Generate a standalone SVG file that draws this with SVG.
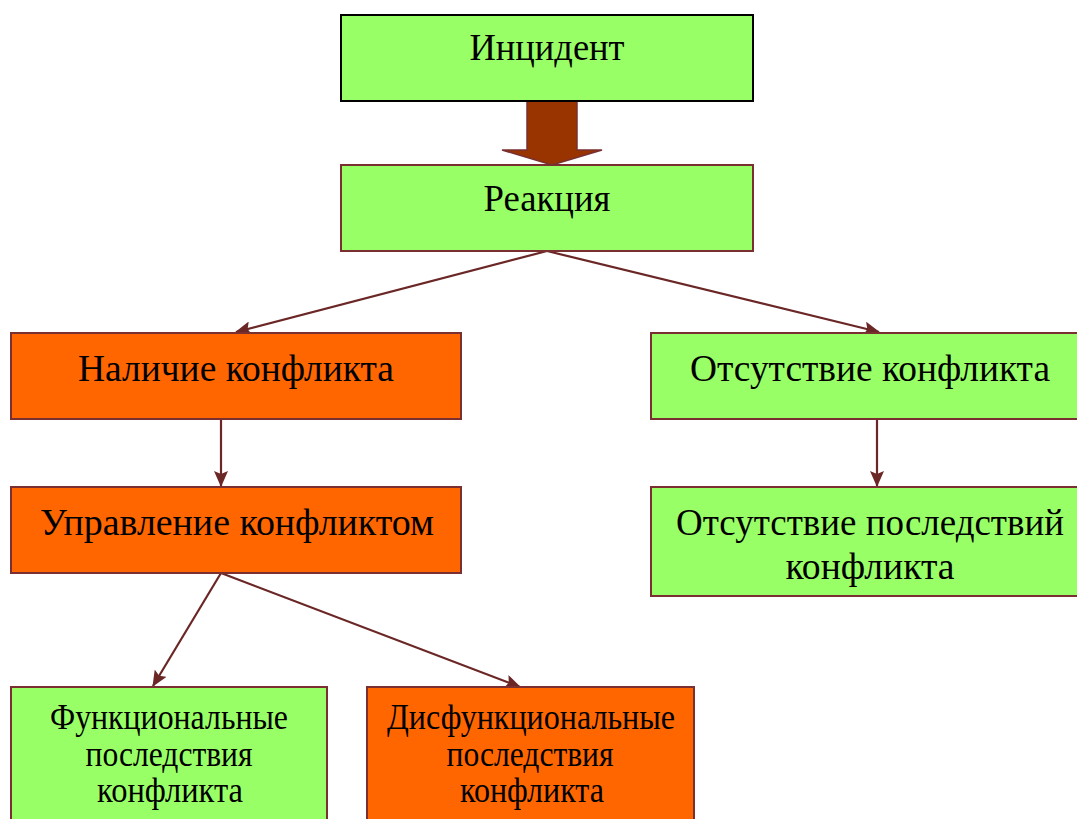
<svg xmlns="http://www.w3.org/2000/svg" width="1077" height="819" viewBox="0 0 1077 819">
<style>
.g{fill:#99ff66;stroke:#7a3030;stroke-width:2}
.o{fill:#ff6600;stroke:#7a3030;stroke-width:2}
.t{font-family:"Liberation Serif","Times New Roman",serif;font-size:37px;fill:#000;text-anchor:middle}
.s{font-family:"Liberation Serif","Times New Roman",serif;font-size:35px;fill:#000;text-anchor:middle}
.c{stroke:#6b2626;stroke-width:2.2;fill:none;marker-end:url(#ah)}
</style>
<defs>
<marker id="ah" viewBox="0 0 16 14" refX="15" refY="7" markerWidth="16" markerHeight="14" markerUnits="userSpaceOnUse" orient="auto">
<path d="M0,0 L16,7 L0,14 L3,7 Z" fill="#6b2626"/>
</marker>
</defs>
<rect width="1077" height="819" fill="#fff"/>
<g id="connectors">
<path d="M527,101 L577,101 L577,150 L602,150 L552,165 L502,150 L527,150 Z" fill="#993300" stroke="#7a3030" stroke-width="1.5"/>
<line class="c" x1="547" y1="251" x2="236" y2="332"/>
<line class="c" x1="547" y1="251" x2="879" y2="332"/>
<line class="c" x1="221" y1="419" x2="221" y2="486"/>
<line class="c" x1="877" y1="419" x2="877" y2="486"/>
<line class="c" x1="221" y1="573" x2="153" y2="686"/>
<line class="c" x1="221" y1="573" x2="520" y2="687"/>
</g>
<g id="n1">
<rect x="341" y="15" width="412" height="86" fill="#99ff66" stroke="#000" stroke-width="2"/>
<text class="t" x="547" y="60" textLength="155" lengthAdjust="spacingAndGlyphs">Инцидент</text>
</g>
<g id="n2">
<rect class="g" x="341" y="165" width="412" height="86"/>
<text class="t" x="547" y="211" textLength="127" lengthAdjust="spacingAndGlyphs">Реакция</text>
</g>
<g id="n3">
<rect class="o" x="11" y="333" width="450" height="86"/>
<text class="t" x="236" y="381" textLength="316" lengthAdjust="spacingAndGlyphs">Наличие конфликта</text>
</g>
<g id="n4">
<rect class="g" x="651" y="333" width="430" height="86"/>
<text class="t" x="870" y="381" textLength="360" lengthAdjust="spacingAndGlyphs">Отсутствие конфликта</text>
</g>
<g id="n5">
<rect class="o" x="11" y="487" width="450" height="86"/>
<text class="t" x="237" y="535" textLength="394" lengthAdjust="spacingAndGlyphs">Управление конфликтом</text>
</g>
<g id="n6">
<rect class="g" x="651" y="487" width="430" height="109"/>
<text class="t" x="870" y="535" textLength="388" lengthAdjust="spacingAndGlyphs">Отсутствие последствий</text>
<text class="t" x="870" y="579" textLength="169" lengthAdjust="spacingAndGlyphs">конфликта</text>
</g>
<g id="n7">
<rect class="g" x="11" y="687" width="316" height="140"/>
<text class="s" x="169" y="729" textLength="238" lengthAdjust="spacingAndGlyphs">Функциональные</text>
<text class="s" x="169" y="766" textLength="167" lengthAdjust="spacingAndGlyphs">последствия</text>
<text class="s" x="170" y="802" textLength="146" lengthAdjust="spacingAndGlyphs">конфликта</text>
</g>
<g id="n8">
<rect class="o" x="367" y="687" width="327" height="140"/>
<text class="s" x="531" y="729" textLength="288" lengthAdjust="spacingAndGlyphs">Дисфункциональные</text>
<text class="s" x="530" y="766" textLength="167" lengthAdjust="spacingAndGlyphs">последствия</text>
<text class="s" x="532" y="802" textLength="144" lengthAdjust="spacingAndGlyphs">конфликта</text>
</g>
</svg>
